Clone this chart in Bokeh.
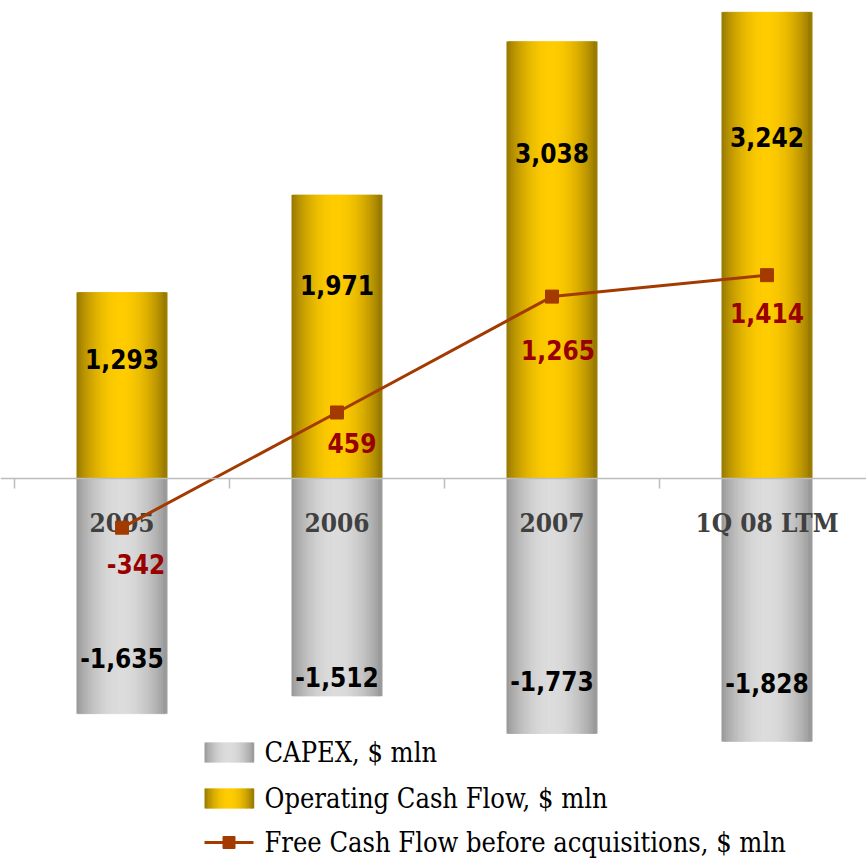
import numpy as np
from bokeh.plotting import figure
from bokeh.models import ColumnDataSource, Range1d, Span
from bokeh.core.properties import value
from bokeh.embed import file_html
from bokeh.resources import INLINE

# ---------------- data ----------------
categories = ["2005", "2006", "2007", "1Q 08 LTM"]
capex = [-1635, -1512, -1773, -1828]
ocf = [1293, 1971, 3038, 3242]
fcf = [-342, 459, 1265, 1414]
legend_labels = ["CAPEX, $ mln", "Operating Cash Flow, $ mln",
                 "Free Cash Flow before acquisitions, $ mln"]

# ---------------- styles ----------------
W, H = 866, 858
K = 0.1438            # px per $ mln
X0, STEP, ZERO = 14, 215, 478   # px of first boundary, category step, zero line
BAR_W = 0.414
N_SLICES = 40
GOLD_EDGE, GOLD_MID = (0x93, 0x75, 0x00), (0xFF, 0xCC, 0x00)
GRAY_EDGE, GRAY_MID = (0x96, 0x96, 0x96), (0xDC, 0xDC, 0xDC)
LINE_COLOR = "#A33A00"
FCF_TEXT = "#990000"
VAL_FONT = "DejaVu Sans Condensed"
CAT_FONT = "DejaVu Serif Condensed"
LEG_FONT = "DejaVu Serif Condensed"
ocf_dy = [66, 90, 111, 125]        # label offset from bar top (px)
capex_dy = [-56, -19, -52, -58]    # label offset from bar bottom (px)
fcf_dx = [14, 15, 6, 0]
fcf_dy = [36, 31, 53, 38]


def px_x(px):
    return (px - X0) / STEP


def px_y(py):
    return (ZERO - py) / K


def shade(t, edge, mid):
    w = np.sin(np.pi * t) ** 0.8
    c = [int(round(e + (m - e) * w)) for e, m in zip(edge, mid)]
    return "#%02x%02x%02x" % tuple(c)


p = figure(width=W, height=H, output_backend="svg", toolbar_location=None,
           x_range=Range1d(px_x(0), px_x(W)), y_range=Range1d(px_y(H), px_y(0)),
           min_border=0, outline_line_color=None)
p.axis.visible = False
p.grid.visible = False
p.background_fill_color = "white"
p.border_fill_color = "white"

n = len(categories)
centers = [i + 0.5 for i in range(n)]

# zero axis line + ticks at category boundaries
p.add_layout(Span(location=0, dimension="width", line_color="#BDBDBD", line_width=1.5))
p.segment(x0=list(range(n + 1)), y0=[0] * (n + 1), x1=list(range(n + 1)),
          y1=[-10 / K] * (n + 1), line_color="#BDBDBD", line_width=1.5)


# gradient bars built from thin overlapping slices
def grad_bars(vals, edge, mid):
    xs, tops, cols = [], [], []
    ws = BAR_W / N_SLICES
    for c, v in zip(centers, vals):
        for k in range(N_SLICES):
            t = (k + 0.5) / N_SLICES
            xs.append(c - BAR_W / 2 + (k + 0.5) * ws)
            tops.append(v)
            cols.append(shade(t, edge, mid))
    src = ColumnDataSource(dict(x=xs, top=tops, color=cols))
    p.vbar(x="x", top="top", bottom=0, width=ws * 1.6, fill_color="color",
           line_color="color", line_width=0.6, source=src)


grad_bars(ocf, GOLD_EDGE, GOLD_MID)
grad_bars(capex, GRAY_EDGE, GRAY_MID)

# category labels
p.text(x=centers, y=[0] * n, text=categories, y_offset=44,
       text_align="center", text_baseline="middle",
       text_font=value(CAT_FONT), text_font_style="bold",
       text_font_size=value("26px"), text_color="#404040")

# FCF line
p.line(x=centers, y=fcf, line_color=LINE_COLOR, line_width=3)
p.scatter(x=centers, y=fcf, marker="square", size=13,
          fill_color=LINE_COLOR, line_color=LINE_COLOR)

# value labels
src_ocf = ColumnDataSource(dict(x=centers, y=ocf, t=[f"{v:,}" for v in ocf], dy=ocf_dy))
p.text(x="x", y="y", text="t", y_offset="dy", source=src_ocf,
       text_align="center", text_baseline="middle",
       text_font=value(VAL_FONT), text_font_style="bold",
       text_font_size=value("26px"), text_color="black")
src_cap = ColumnDataSource(dict(x=centers, y=capex, t=[f"{v:,}" for v in capex], dy=capex_dy))
p.text(x="x", y="y", text="t", y_offset="dy", source=src_cap,
       text_align="center", text_baseline="middle",
       text_font=value(VAL_FONT), text_font_style="bold",
       text_font_size=value("26px"), text_color="black")
src_fcf = ColumnDataSource(dict(x=centers, y=fcf, t=[f"{v:,}" for v in fcf],
                                dx=fcf_dx, dy=fcf_dy))
p.text(x="x", y="y", text="t", x_offset="dx", y_offset="dy", source=src_fcf,
       text_align="center", text_baseline="middle",
       text_font=value(VAL_FONT), text_font_style="bold",
       text_font_size=value("26px"), text_color=FCF_TEXT)

# manual legend
row_y = [752, 798, 842]
sw_l, sw_r, sw_h = 204, 253, 20
for (edge, mid), ry in zip([(GRAY_EDGE, GRAY_MID), (GOLD_EDGE, GOLD_MID)], row_y[:2]):
    ws = (sw_r - sw_l) / N_SLICES
    lefts = [px_x(sw_l + k * ws) for k in range(N_SLICES)]
    rights = [px_x(sw_l + (k + 1.6) * ws) for k in range(N_SLICES)]
    cols = [shade((k + 0.5) / N_SLICES, edge, mid) for k in range(N_SLICES)]
    p.quad(left=lefts, right=rights, top=px_y(ry - sw_h / 2), bottom=px_y(ry + sw_h / 2),
           fill_color=cols, line_color=None)
p.line(x=[px_x(sw_l), px_x(sw_r)], y=[px_y(row_y[2])] * 2, line_color=LINE_COLOR, line_width=3)
p.scatter(x=[px_x((sw_l + sw_r) / 2)], y=[px_y(row_y[2])], marker="square", size=12,
          fill_color=LINE_COLOR, line_color=LINE_COLOR)
p.text(x=[px_x(264)] * 3, y=[px_y(r) for r in row_y], text=legend_labels,
       text_align="left", text_baseline="middle",
       text_font=value(LEG_FONT), text_font_size=value("27px"), text_color="black")

open("out.html", "w").write(file_html(p, INLINE))
